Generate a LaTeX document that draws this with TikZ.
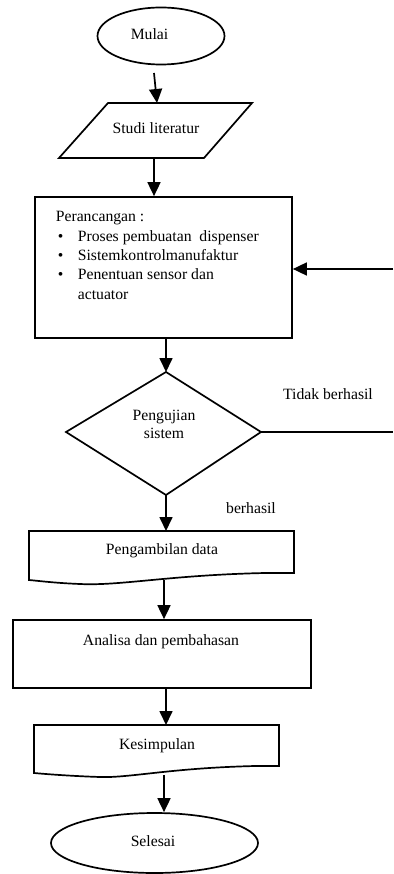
\documentclass[tikz,border=0pt]{standalone}
\usepackage{fontspec}
\setmainfont{Liberation Serif}
\usetikzlibrary{arrows.meta,shapes.geometric}
\begin{document}
\begin{tikzpicture}[x=1pt,y=-1pt,
  line width=1.7pt,
  arr/.style={-{Triangle[width=13pt,length=14pt]}},
  txt/.style={font=\fontsize{15.7}{18}\selectfont, inner sep=0pt, align=center},
  term/.style={ellipse, draw, inner sep=0pt},
  boxed/.style={draw, inner sep=0pt}
]
\useasboundingbox (0,0) rectangle (393,874);
% Mulai
\node[term, minimum width=127pt, minimum height=57pt] (mulai) at (161,36) {};
\node[txt] (mulaitxt) at (149.5,34) {Mulai};
\coordinate (a1s) at (154,73);
% Studi literatur
\coordinate (p1) at (59,158);
\coordinate (p2) at (204,158);
\coordinate (p3) at (252,103);
\coordinate (p4) at (108,103);
\draw (p1) -- (p2) -- (p3) -- (p4) -- cycle;
\node[txt] (studi) at (156,128) {Studi literatur};
\coordinate (studitop) at (157,103);
\draw[arr] (a1s) -- (studitop);
\coordinate (studibot) at (154,158);
% Perancangan
\node[boxed, minimum width=257pt, minimum height=141pt] (per) at (163.5,267.5) {};
\draw[arr] (studibot) -- (studibot |- per.north);
\node[txt, anchor=base west, align=left, font=\fontsize{15.7}{19.3}\selectfont] (pertxt) at (55,222) {%
\begin{tabular}[t]{@{}l@{\hspace{14.5pt}}l@{}}
\multicolumn{2}{@{}l}{Perancangan :}\\
\hspace*{2pt}\textbullet & Proses pembuatan~ dispenser\\
\hspace*{2pt}\textbullet & Sistemkontrolmanufaktur\\
\hspace*{2pt}\textbullet & Penentuan sensor dan\\
 & actuator
\end{tabular}};
\coordinate (fbR) at (393,269);
\draw[arr] (fbR) -- (fbR -| per.east);
% Pengujian sistem
\coordinate (dT) at (166,372);
\coordinate (dR) at (261,432);
\coordinate (dB) at (166,495);
\coordinate (dL) at (66,432);
\draw (dT) -- (dR) -- (dB) -- (dL) -- cycle;
\node[txt] (uji) at (164,424) {Pengujian\\sistem};
\draw[arr] (dT |- per.south) -- (dT);
\coordinate (tbR) at (393,432);
\draw (dR) -- (tbR);
\node[txt] (tidak) at (328,394) {Tidak berhasil};
\node[txt] (berhasil) at (251,508) {berhasil};
% Pengambilan data
\draw (29,531) -- (294,531) -- (294,573) -- (265,573)
  .. controls (170,575) and (120,586) .. (80,584)
  .. controls (55,583) and (40,581) .. (29,580) -- cycle;
\coordinate (d1top) at (166,531);
\draw[arr] (dB) -- (d1top);
\node[txt] (ambil) at (162,551) {Pengambilan data};
\coordinate (d1bot) at (164,580);
% Analisa
\node[boxed, minimum width=298pt, minimum height=68pt] (ana) at (162,654) {};
\draw[arr] (d1bot) -- (d1bot |- ana.north);
\node[txt] (anatxt) at (161,642) {Analisa dan pembahasan};
% Kesimpulan
\draw (34,725) -- (279,725) -- (279,766) -- (255,766)
  .. controls (170,768) and (130,778) .. (100,777)
  .. controls (70,776) and (45,774) .. (34,773) -- cycle;
\coordinate (d2top) at (166,725);
\draw[arr] (d2top |- ana.south) -- (d2top);
\node[txt] (kes) at (157,746) {Kesimpulan};
\coordinate (d2bot) at (164,775);
% Selesai
\node[term, minimum width=207pt, minimum height=60pt] (sel) at (154.5,843) {};
\draw[arr] (d2bot) -- (d2bot |- sel.north);
\node[txt] (seltxt) at (153,841) {Selesai};
\end{tikzpicture}
\end{document}
